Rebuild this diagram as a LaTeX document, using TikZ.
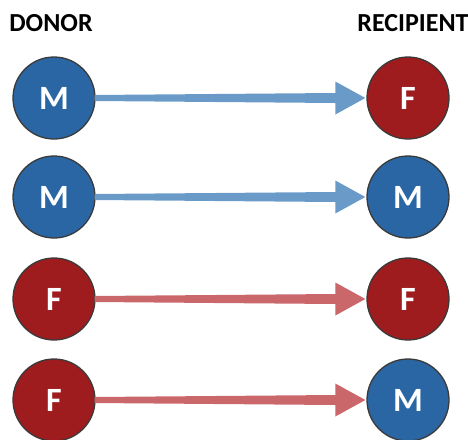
\documentclass[tikz,border=0pt]{standalone}
\usepackage{fontspec}
\setmainfont{Carlito}
\usetikzlibrary{calc}
\definecolor{mblue}{HTML}{2A66A3}
\definecolor{fred}{HTML}{9E1B1E}
\definecolor{ablue}{HTML}{6A9BC8}
\definecolor{ared}{HTML}{C9676B}
\definecolor{edge}{HTML}{3A3A3A}
\tikzset{
  sexnode/.style={circle, minimum size=82pt, inner sep=0pt, draw=edge, line width=1.3pt,
    text=white, font=\fontsize{34}{34}\selectfont\bfseries},
  male/.style={sexnode, fill=mblue},
  female/.style={sexnode, fill=fred},
  heading/.style={font=\fontsize{26}{26}\selectfont\bfseries, text=black, inner sep=0pt}
}
\newcommand{\flowarrow}[3]{%
  \fill[#3] ($(#1.east)+(-1,-3)$) -- ($(#2.west)+(-31,-5)$) -- ($(#2.west)+(-31,-16.5)$)
    -- ($(#2.west)+(-1,0)$) -- ($(#2.west)+(-31,16.5)$) -- ($(#2.west)+(-31,5)$)
    -- ($(#1.east)+(-1,3)$) -- cycle;}
\begin{document}
\begin{tikzpicture}[x=1pt,y=-1pt]
\useasboundingbox (0,0) rectangle (468,439);
\node[heading] (donor) at (51,23) {DONOR};
\node[heading] (recip) at (413,23) {RECIPIENT};
\node[male]   (d1) at (54,98)  {M};
\node[female] (r1) at (408,98) {F};
\node[male]   (d2) at (54,197) {M};
\node[male]   (r2) at (408,197) {M};
\node[female] (d3) at (54,299) {F};
\node[female] (r3) at (408,299) {F};
\node[female] (d4) at (54,400) {F};
\node[male]   (r4) at (408,400) {M};
\flowarrow{d1}{r1}{ablue}
\flowarrow{d2}{r2}{ablue}
\flowarrow{d3}{r3}{ared}
\flowarrow{d4}{r4}{ared}
\end{tikzpicture}
\end{document}
